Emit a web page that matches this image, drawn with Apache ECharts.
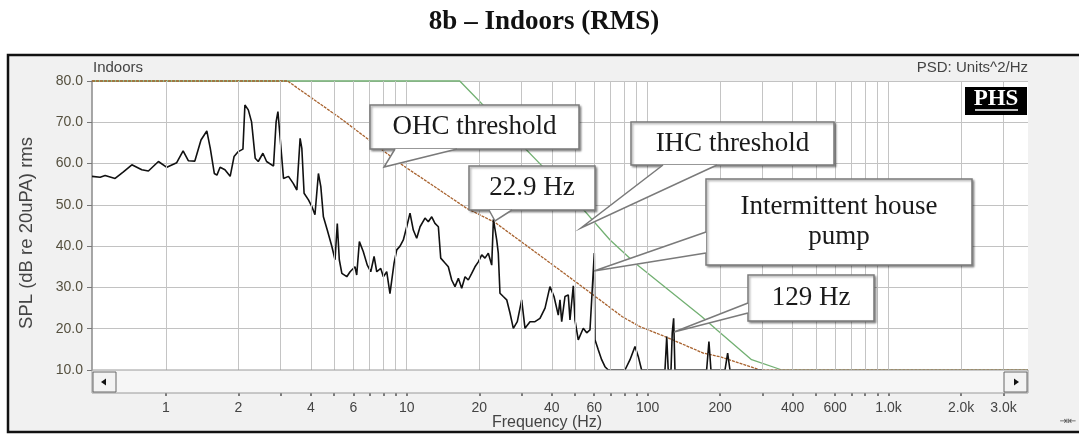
<!DOCTYPE html>
<html><head><meta charset="utf-8">
<script src="https://cdn.jsdelivr.net/npm/echarts@6/dist/echarts.min.js"></script>
<style>html,body{margin:0;padding:0;background:#fff}#c{width:1079px;height:434px}</style>
</head><body><div id="c"></div>
<script>
// ---------- data ----------
const TITLE = '8b \u2013 Indoors (RMS)';
const X_NAME = 'Frequency (Hz)';
const Y_NAME = 'SPL (dB re 20uPA) rms';

const freqHz = [0.494,0.534,0.560,0.616,0.667,0.723,0.795,0.847,0.932,1.01,1.11,1.18,1.24,1.32,1.40,1.48,1.53,1.59,1.63,1.68,1.76,1.85,1.92,2.00,2.09,2.13,2.20,2.27,2.35,2.42,2.53,2.62,2.80,2.87,2.92,2.98,3.08,3.23,3.38,3.50,3.61,3.67,3.75,3.91,4.04,4.16,4.30,4.40,4.51,4.68,4.89,5.04,5.15,5.25,5.38,5.64,5.82,6.10,6.20,6.36,6.60,6.86,7.09,7.32,7.51,7.80,8.00,8.26,8.52,8.86,9.09,9.38,9.68,10.0,10.32,10.65,11.0,11.36,11.91,12.29,12.70,13.10,13.53,13.84,14.42,14.88,15.37,15.86,16.38,16.91,17.46,18.01,18.61,19.20,19.82,20.48,21.13,21.81,22.53,22.9,23.63,23.99,24.38,25.16,26.0,26.83,27.7,28.77,30.0,30.97,32.48,34.07,35.73,37.5,39.3,40.86,42.56,43.26,43.98,45.38,46.83,47.6,49.13,49.93,51.52,54.05,55.84,57.63,58.57,60.05,60.45,62.37,64.43,66.5,68.6,80.5,84.5,88.6,91.4,94.4,118,120,121.7,125,126.5,128.2,129.8,175.7,179.6,183.1,209.4,214.8,219.6,300];
const splDb = [56.9,56.7,57.1,56.4,58.0,59.7,58.5,58.2,60.5,59.1,60.2,63.1,60.7,60.6,65.7,67.9,63.7,57.6,57.2,59.1,58.5,56.9,61.7,62.9,63.5,74.2,73.0,70.1,61.3,60.5,62.5,60.5,59.4,70.1,72.6,66.5,56.4,56.9,55.2,53.6,66.1,63.7,52.8,51.2,49.6,47.6,57.6,54.4,47.1,43.9,39.9,36.7,45.5,36.7,33.4,32.6,33.8,35.0,33.0,41.1,38.7,35.4,33.8,37.5,33.8,34.6,32.6,33.8,28.5,35.9,39.1,40.0,41.5,44.7,48.0,43.9,41.9,44.7,46.8,45.9,47.1,45.5,44.7,37.1,35.9,35.0,31.8,30.2,32.2,29.8,32.6,31.8,33.4,35.0,36.2,37.9,37.1,38.3,35.4,46.5,41.5,38.3,28.6,27.8,27.0,23.8,20.1,21.7,27.0,20.1,21.7,21.7,22.5,25.0,30.2,27.8,23.3,27.0,21.7,27.8,28.2,22.1,30.4,22.1,17.3,20.1,19.0,19.7,27.0,38.3,17.3,14.9,12.5,10.8,10.0,10.0,12.5,15.7,13.3,10.0,10,18.1,10,10,19.0,22.5,10,10,16.9,10,10,14.1,10,10];

const ohcFreq = [0.494,3.2,5.3,9.4,17.7,23.3,43.2,59.4,78.5,92.9,118,170,200,280,292,3790];
const ohcDb   = [80,80,71,60,49.2,45.7,34.2,28.2,22.9,20.5,18.1,14.1,13.2,10.4,10,10];
const ihcFreq = [0.494,16.6,49.9,69.8,88.6,167,194,270,361,3790];
const ihcDb   = [80,80,51.2,41.5,35.9,23,19.7,12.5,10,10];

const gridFreqs = [1,2,3,4,5,6,7,8,9,10,20,30,40,50,60,70,80,90,100,200,300,400,500,600,700,800,900,1000,2000,3000];
const labelFreqs = [1,2,4,6,10,20,40,60,100,200,400,600,1000,2000,3000];
const Y_MIN = 10, Y_MAX = 80, Y_STEP = 10;
const X_MIN = 0.494, X_MAX = 3790;

const calloutTexts = ['OHC threshold','22.9 Hz','IHC threshold','Intermittent house\npump','129 Hz'];

// ---------- chart ----------
const pairs = (xs, ys) => xs.map((x, i) => [x, ys[i]]);
const chart = echarts.init(document.getElementById('c'), null, {renderer: 'canvas'});

const serif = '"Liberation Serif","Times New Roman",serif';
const sans = '"Liberation Sans",Arial,sans-serif';

function callout(box, base, tip, text, lh) {
  const els = [];
  els.push({type:'rect', z:50, shape:{x:box[0],y:box[1],width:box[2],height:box[3]},
    style:{fill:'#fff', stroke:'#7a7a7a', lineWidth:1.5, shadowBlur:2, shadowOffsetX:1.5, shadowOffsetY:1.5, shadowColor:'rgba(0,0,0,0.35)'}});
  els.push({type:'polygon', z:51, shape:{points:[base[0], tip, base[1]]}, style:{fill:'#fff', stroke:null}});
  els.push({type:'polyline', z:52, shape:{points:[base[0], tip, base[1]]}, style:{fill:null, stroke:'#7a7a7a', lineWidth:1.5}});
  els.push({type:'text', z:53, x: box[0]+box[2]/2, y: box[1]+box[3]/2,
    style:{text:text, fontSize:27, fontFamily:serif, fill:'#1a1a1a', align:'center', verticalAlign:'middle', lineHeight: lh || 30}});
  return els;
}

const graphics = [
  {type:'rect', z:-10, shape:{x:8,y:55,width:1085,height:377}, style:{fill:'#f1f1f1', stroke:'#111', lineWidth:2.5}},
  {type:'text', z:5, x:93, y:68, style:{text:'Indoors', fontSize:15, fontFamily:sans, fill:'#444', align:'left', verticalAlign:'middle'}},
  {type:'text', z:5, x:1028, y:68, style:{text:'PSD: Units^2/Hz', fontSize:15, fontFamily:sans, fill:'#444', align:'right', verticalAlign:'middle'}},
  {type:'rect', z:30, shape:{x:965,y:87,width:62,height:28}, style:{fill:'#000'}},
  {type:'text', z:31, x:996, y:99, style:{text:'PHS', fontSize:23, fontWeight:'bold', fontFamily:serif, fill:'#fff', align:'center', verticalAlign:'middle'}},
  {type:'line', z:31, shape:{x1:975,y1:110,x2:1018,y2:110}, style:{stroke:'#fff', lineWidth:1.5}},
  // scrollbar
  {type:'rect', z:20, shape:{x:92,y:370,width:936,height:23}, style:{fill:'#f6f6f6', stroke:'#9a9a9a', lineWidth:1}},
  {type:'rect', z:21, shape:{x:93,y:372,width:23,height:20}, style:{fill:'#f3f3f3', stroke:'#666', lineWidth:1}},
  {type:'polygon', z:22, shape:{points:[[101,382],[106,378.5],[106,385.5]]}, style:{fill:'#111'}},
  {type:'rect', z:21, shape:{x:1004,y:372,width:23,height:20}, style:{fill:'#f3f3f3', stroke:'#666', lineWidth:1}},
  {type:'polygon', z:22, shape:{points:[[1019,382],[1014,378.5],[1014,385.5]]}, style:{fill:'#111'}},
  {type:'text', z:5, x:547, y:423, style:{text:X_NAME, fontSize:16, fontFamily:sans, fill:'#444', align:'center', verticalAlign:'middle'}},
  {type:'text', z:5, x:27, y:233, rotation: Math.PI/2, style:{text:Y_NAME, fontSize:18.5, fontFamily:sans, fill:'#444', align:'center', verticalAlign:'middle'}},
  {type:'text', z:5, x:1068, y:421, style:{text:'\u21E5\u21E4', fontSize:10, fontFamily:'"DejaVu Sans"', fill:'#555', align:'center', verticalAlign:'middle'}},
  {type:'text', z:5, x:544, y:22, style:{text:TITLE, fontSize:27, fontWeight:'bold', fontFamily:serif, fill:'#111', align:'center', verticalAlign:'middle'}}
].concat(
  callout([370,105,209,44], [[395,149],[457,149]], [384,167], calloutTexts[0]),
  callout([469,166,126,44], [[489,210],[512,210]], [495,221], calloutTexts[1]),
  callout([631,122,203,43], [[663,165],[717,165]], [581,228], calloutTexts[2]),
  callout([706,179,266,86], [[706,232],[706,253]], [594,271], calloutTexts[3], 30),
  callout([748,275,126,46], [[748,303],[748,313]], [674,332], calloutTexts[4])
);

const option = {
  backgroundColor: '#ffffff',
  animation: false,
  grid: {left: 92, top: 81, right: 51, bottom: 64, show: true, backgroundColor: '#ffffff', borderWidth: 0},
  xAxis: {
    type: 'log', logBase: 10, min: X_MIN, max: X_MAX, offset: 23,
    axisLine: {show: false},
    splitLine: {show: false},
    axisTick: {show: true, customValues: gridFreqs, length: 3, lineStyle: {color: '#555', width: 1.5}},
    axisLabel: {customValues: labelFreqs, margin: 8, fontSize: 14, fontFamily: sans, color: '#444',
      formatter: v => { const r = Math.round(v); return r >= 1000 ? (r/1000).toFixed(1) + 'k' : String(r); }}
  },
  yAxis: {
    type: 'value', min: Y_MIN, max: Y_MAX, interval: Y_STEP,
    axisLine: {show: true, lineStyle: {color: '#8a8a8a', width: 1.5}},
    axisTick: {show: true, length: 5, lineStyle: {color: '#777'}},
    axisLabel: {margin: 9, fontSize: 14, fontFamily: sans, color: '#55503f', formatter: v => v.toFixed(1)},
    splitLine: {show: true, lineStyle: {color: '#c2c2c2', width: 1}}
  },
  graphic: graphics,
  series: [
    {name:'grid', type:'line', data:[], z:1, silent:true,
      markLine:{silent:true, symbol:['none','none'], label:{show:false}, animation:false,
        lineStyle:{color:'#c4c4c4', width:1, type:'solid'},
        data: gridFreqs.map(f => ({xAxis: f}))}},
    {name:'IHC threshold', type:'line', data: pairs(ihcFreq, ihcDb), z:3, showSymbol:false, clip:false,
      lineStyle:{color:'#72b072', width:1.3}},
    {name:'OHC threshold', type:'line', data: pairs(ohcFreq, ohcDb), z:3, showSymbol:false, clip:false,
      lineStyle:{color:'#a8622e', width:1.3, type:[3,1]}},
    {name:'Indoors', type:'line', data: pairs(freqHz, splDb), z:4, showSymbol:false,
      lineStyle:{color:'#111', width:1.6}}
  ]
};
chart.setOption(option);
</script>
</body></html>
